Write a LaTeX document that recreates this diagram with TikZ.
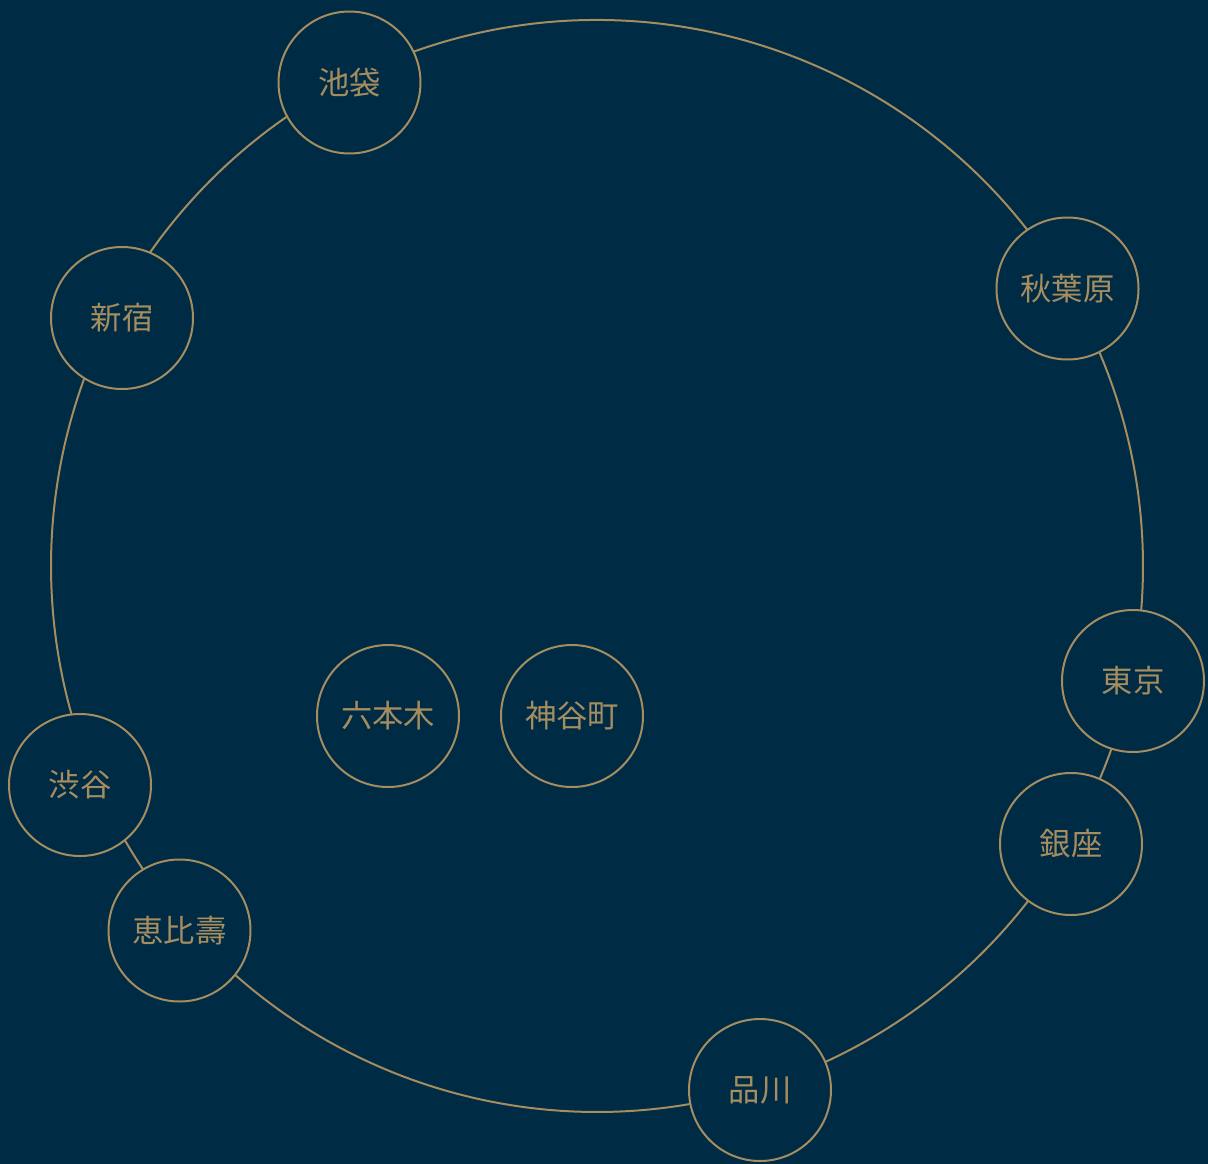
\documentclass[tikz,border=0pt]{standalone}
\usepackage{fontspec}
\setmainfont{Noto Sans CJK JP}
\definecolor{bg}{HTML}{002B45}
\definecolor{gold}{HTML}{A58D5F}
\begin{document}
\begin{tikzpicture}[x=0.75pt,y=-0.75pt,
  station/.style={circle, draw=gold, line width=1.5pt, fill=bg, minimum size=106.5pt, inner sep=0pt, text=gold, font=\fontsize{23.5}{28}\selectfont},
  link/.style={draw=gold, line width=1.5pt}]
\fill[bg] (0,0) rectangle (1208,1164);
\useasboundingbox (0,0) rectangle (1208,1164);
\coordinate (ring) at (597,566);
% ring segments between the stations (drawn first, stations cover their ends)
\draw[link] (ring) ++(-117.1:546) arc[start angle=-117.1, end angle=-30.5, radius=546];
\draw[link] (ring) ++(-30.5:546) arc[start angle=-30.5, end angle=12.1, radius=546];
\draw[link] (ring) ++(12.1:546) arc[start angle=12.1, end angle=30.4, radius=546];
\draw[link] (ring) ++(30.4:546) arc[start angle=30.4, end angle=72.7, radius=546];
\draw[link] (ring) ++(72.7:546) arc[start angle=72.7, end angle=138.9, radius=546];
\draw[link] (ring) ++(138.9:546) arc[start angle=138.9, end angle=157, radius=546];
\draw[link] (ring) ++(157:546) arc[start angle=157, end angle=207.6, radius=546];
\draw[link] (ring) ++(207.6:546) arc[start angle=207.6, end angle=242.9, radius=546];
\node[station] (ikebukuro) at (349.5,82.5) {池袋};
\node[station] (akihabara) at (1067.5,288.5) {秋葉原};
\node[station] (tokyo) at (1133,681) {東京};
\node[station] (ginza) at (1071,844) {銀座};
\node[station] (shinagawa) at (760,1090) {品川};
\node[station] (ebisu) at (179.5,930.5) {恵比壽};
\node[station] (shibuya) at (80,785) {渋谷};
\node[station] (shinjuku) at (122,318) {新宿};
\node[station] (roppongi) at (388,716) {六本木};
\node[station] (kamiyacho) at (572,716) {神谷町};
\end{tikzpicture}
\end{document}
